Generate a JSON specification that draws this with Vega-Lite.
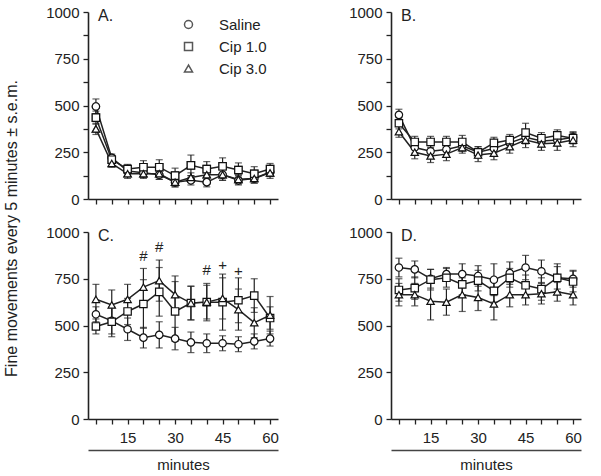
{
  "$schema": "https://vega.github.io/schema/vega-lite/v6.json",
  "padding": {"left": 3, "top": 5, "right": 5, "bottom": 3},
  "config": {
    "font": "Liberation Sans",
    "view": {"stroke": null},
    "axis": {"grid": false, "domainColor": "#222", "domainWidth": 1.6, "tickColor": "#222", "tickWidth": 1.3, "tickSize": 5, "labelFontSize": 15, "labelColor": "#222", "titleFontWeight": "normal", "titleColor": "#222", "titleFontSize": 16, "labelPadding": 4},
    "legend": {"labelFontSize": 15, "labelColor": "#222"},
    "title": {"fontSize": 16, "fontWeight": "normal", "color": "#222", "anchor": "start", "frame": "group"}
  },
  "datasets": {
    "ann": [
      {"panel": "C", "minute": 20, "level": 870, "sym": "#"},
      {"panel": "C", "minute": 25, "level": 920, "sym": "#"},
      {"panel": "C", "minute": 40, "level": 795, "sym": "#"},
      {"panel": "C", "minute": 45, "level": 825, "sym": "+"},
      {"panel": "C", "minute": 50, "level": 790, "sym": "+"}
    ],
    "d": [
      {"panel":"A","minute":5,"group":"Saline","mean":495,"sem":40},
      {"panel":"A","minute":10,"group":"Saline","mean":220,"sem":20},
      {"panel":"A","minute":15,"group":"Saline","mean":150,"sem":25},
      {"panel":"A","minute":20,"group":"Saline","mean":140,"sem":25},
      {"panel":"A","minute":25,"group":"Saline","mean":130,"sem":25},
      {"panel":"A","minute":30,"group":"Saline","mean":90,"sem":25},
      {"panel":"A","minute":35,"group":"Saline","mean":100,"sem":25},
      {"panel":"A","minute":40,"group":"Saline","mean":90,"sem":25},
      {"panel":"A","minute":45,"group":"Saline","mean":130,"sem":30},
      {"panel":"A","minute":50,"group":"Saline","mean":100,"sem":25},
      {"panel":"A","minute":55,"group":"Saline","mean":110,"sem":25},
      {"panel":"A","minute":60,"group":"Saline","mean":145,"sem":25},
      {"panel":"A","minute":5,"group":"Cip 1.0","mean":435,"sem":35},
      {"panel":"A","minute":10,"group":"Cip 1.0","mean":210,"sem":20},
      {"panel":"A","minute":15,"group":"Cip 1.0","mean":160,"sem":25},
      {"panel":"A","minute":20,"group":"Cip 1.0","mean":170,"sem":35},
      {"panel":"A","minute":25,"group":"Cip 1.0","mean":170,"sem":40},
      {"panel":"A","minute":30,"group":"Cip 1.0","mean":125,"sem":40},
      {"panel":"A","minute":35,"group":"Cip 1.0","mean":180,"sem":55},
      {"panel":"A","minute":40,"group":"Cip 1.0","mean":160,"sem":40},
      {"panel":"A","minute":45,"group":"Cip 1.0","mean":175,"sem":45},
      {"panel":"A","minute":50,"group":"Cip 1.0","mean":155,"sem":38},
      {"panel":"A","minute":55,"group":"Cip 1.0","mean":135,"sem":38},
      {"panel":"A","minute":60,"group":"Cip 1.0","mean":160,"sem":30},
      {"panel":"A","minute":5,"group":"Cip 3.0","mean":375,"sem":30},
      {"panel":"A","minute":10,"group":"Cip 3.0","mean":190,"sem":20},
      {"panel":"A","minute":15,"group":"Cip 3.0","mean":135,"sem":25},
      {"panel":"A","minute":20,"group":"Cip 3.0","mean":135,"sem":25},
      {"panel":"A","minute":25,"group":"Cip 3.0","mean":135,"sem":30},
      {"panel":"A","minute":30,"group":"Cip 3.0","mean":90,"sem":25},
      {"panel":"A","minute":35,"group":"Cip 3.0","mean":115,"sem":25},
      {"panel":"A","minute":40,"group":"Cip 3.0","mean":130,"sem":30},
      {"panel":"A","minute":45,"group":"Cip 3.0","mean":130,"sem":30},
      {"panel":"A","minute":50,"group":"Cip 3.0","mean":105,"sem":25},
      {"panel":"A","minute":55,"group":"Cip 3.0","mean":110,"sem":25},
      {"panel":"A","minute":60,"group":"Cip 3.0","mean":140,"sem":30},
      {"panel":"B","minute":5,"group":"Saline","mean":450,"sem":30},
      {"panel":"B","minute":10,"group":"Saline","mean":275,"sem":30},
      {"panel":"B","minute":15,"group":"Saline","mean":255,"sem":30},
      {"panel":"B","minute":20,"group":"Saline","mean":265,"sem":30},
      {"panel":"B","minute":25,"group":"Saline","mean":285,"sem":30},
      {"panel":"B","minute":30,"group":"Saline","mean":250,"sem":30},
      {"panel":"B","minute":35,"group":"Saline","mean":270,"sem":30},
      {"panel":"B","minute":40,"group":"Saline","mean":300,"sem":30},
      {"panel":"B","minute":45,"group":"Saline","mean":330,"sem":35},
      {"panel":"B","minute":50,"group":"Saline","mean":310,"sem":30},
      {"panel":"B","minute":55,"group":"Saline","mean":315,"sem":30},
      {"panel":"B","minute":60,"group":"Saline","mean":330,"sem":30},
      {"panel":"B","minute":5,"group":"Cip 1.0","mean":405,"sem":30},
      {"panel":"B","minute":10,"group":"Cip 1.0","mean":305,"sem":30},
      {"panel":"B","minute":15,"group":"Cip 1.0","mean":305,"sem":30},
      {"panel":"B","minute":20,"group":"Cip 1.0","mean":305,"sem":30},
      {"panel":"B","minute":25,"group":"Cip 1.0","mean":305,"sem":35},
      {"panel":"B","minute":30,"group":"Cip 1.0","mean":250,"sem":30},
      {"panel":"B","minute":35,"group":"Cip 1.0","mean":300,"sem":30},
      {"panel":"B","minute":40,"group":"Cip 1.0","mean":315,"sem":30},
      {"panel":"B","minute":45,"group":"Cip 1.0","mean":355,"sem":50},
      {"panel":"B","minute":50,"group":"Cip 1.0","mean":325,"sem":30},
      {"panel":"B","minute":55,"group":"Cip 1.0","mean":340,"sem":30},
      {"panel":"B","minute":60,"group":"Cip 1.0","mean":325,"sem":30},
      {"panel":"B","minute":5,"group":"Cip 3.0","mean":360,"sem":30},
      {"panel":"B","minute":10,"group":"Cip 3.0","mean":250,"sem":35},
      {"panel":"B","minute":15,"group":"Cip 3.0","mean":230,"sem":35},
      {"panel":"B","minute":20,"group":"Cip 3.0","mean":240,"sem":35},
      {"panel":"B","minute":25,"group":"Cip 3.0","mean":275,"sem":30},
      {"panel":"B","minute":30,"group":"Cip 3.0","mean":235,"sem":35},
      {"panel":"B","minute":35,"group":"Cip 3.0","mean":245,"sem":35},
      {"panel":"B","minute":40,"group":"Cip 3.0","mean":280,"sem":35},
      {"panel":"B","minute":45,"group":"Cip 3.0","mean":315,"sem":40},
      {"panel":"B","minute":50,"group":"Cip 3.0","mean":295,"sem":35},
      {"panel":"B","minute":55,"group":"Cip 3.0","mean":300,"sem":40},
      {"panel":"B","minute":60,"group":"Cip 3.0","mean":315,"sem":35},
      {"panel":"C","minute":5,"group":"Saline","mean":560,"sem":40},
      {"panel":"C","minute":10,"group":"Saline","mean":525,"sem":70},
      {"panel":"C","minute":15,"group":"Saline","mean":480,"sem":60},
      {"panel":"C","minute":20,"group":"Saline","mean":435,"sem":55},
      {"panel":"C","minute":25,"group":"Saline","mean":450,"sem":70},
      {"panel":"C","minute":30,"group":"Saline","mean":430,"sem":60},
      {"panel":"C","minute":35,"group":"Saline","mean":410,"sem":55},
      {"panel":"C","minute":40,"group":"Saline","mean":405,"sem":50},
      {"panel":"C","minute":45,"group":"Saline","mean":405,"sem":40},
      {"panel":"C","minute":50,"group":"Saline","mean":400,"sem":40},
      {"panel":"C","minute":55,"group":"Saline","mean":415,"sem":40},
      {"panel":"C","minute":60,"group":"Saline","mean":430,"sem":40},
      {"panel":"C","minute":5,"group":"Cip 1.0","mean":495,"sem":40},
      {"panel":"C","minute":10,"group":"Cip 1.0","mean":520,"sem":80},
      {"panel":"C","minute":15,"group":"Cip 1.0","mean":575,"sem":70},
      {"panel":"C","minute":20,"group":"Cip 1.0","mean":615,"sem":130},
      {"panel":"C","minute":25,"group":"Cip 1.0","mean":680,"sem":130},
      {"panel":"C","minute":30,"group":"Cip 1.0","mean":575,"sem":160},
      {"panel":"C","minute":35,"group":"Cip 1.0","mean":620,"sem":90},
      {"panel":"C","minute":40,"group":"Cip 1.0","mean":625,"sem":100},
      {"panel":"C","minute":45,"group":"Cip 1.0","mean":625,"sem":150},
      {"panel":"C","minute":50,"group":"Cip 1.0","mean":635,"sem":120},
      {"panel":"C","minute":55,"group":"Cip 1.0","mean":660,"sem":90},
      {"panel":"C","minute":60,"group":"Cip 1.0","mean":540,"sem":60},
      {"panel":"C","minute":5,"group":"Cip 3.0","mean":640,"sem":80},
      {"panel":"C","minute":10,"group":"Cip 3.0","mean":610,"sem":80},
      {"panel":"C","minute":15,"group":"Cip 3.0","mean":640,"sem":80},
      {"panel":"C","minute":20,"group":"Cip 3.0","mean":705,"sem":100},
      {"panel":"C","minute":25,"group":"Cip 3.0","mean":740,"sem":110},
      {"panel":"C","minute":30,"group":"Cip 3.0","mean":665,"sem":100},
      {"panel":"C","minute":35,"group":"Cip 3.0","mean":620,"sem":90},
      {"panel":"C","minute":40,"group":"Cip 3.0","mean":625,"sem":90},
      {"panel":"C","minute":45,"group":"Cip 3.0","mean":645,"sem":110},
      {"panel":"C","minute":50,"group":"Cip 3.0","mean":585,"sem":110},
      {"panel":"C","minute":55,"group":"Cip 3.0","mean":515,"sem":80},
      {"panel":"C","minute":60,"group":"Cip 3.0","mean":555,"sem":100},
      {"panel":"D","minute":5,"group":"Saline","mean":810,"sem":50},
      {"panel":"D","minute":10,"group":"Saline","mean":800,"sem":45},
      {"panel":"D","minute":15,"group":"Saline","mean":750,"sem":50},
      {"panel":"D","minute":20,"group":"Saline","mean":775,"sem":35},
      {"panel":"D","minute":25,"group":"Saline","mean":775,"sem":55},
      {"panel":"D","minute":30,"group":"Saline","mean":765,"sem":55},
      {"panel":"D","minute":35,"group":"Saline","mean":745,"sem":85},
      {"panel":"D","minute":40,"group":"Saline","mean":780,"sem":60},
      {"panel":"D","minute":45,"group":"Saline","mean":810,"sem":65},
      {"panel":"D","minute":50,"group":"Saline","mean":790,"sem":60},
      {"panel":"D","minute":55,"group":"Saline","mean":755,"sem":75},
      {"panel":"D","minute":60,"group":"Saline","mean":750,"sem":45},
      {"panel":"D","minute":5,"group":"Cip 1.0","mean":690,"sem":60},
      {"panel":"D","minute":10,"group":"Cip 1.0","mean":700,"sem":60},
      {"panel":"D","minute":15,"group":"Cip 1.0","mean":745,"sem":55},
      {"panel":"D","minute":20,"group":"Cip 1.0","mean":755,"sem":50},
      {"panel":"D","minute":25,"group":"Cip 1.0","mean":720,"sem":55},
      {"panel":"D","minute":30,"group":"Cip 1.0","mean":740,"sem":55},
      {"panel":"D","minute":35,"group":"Cip 1.0","mean":685,"sem":60},
      {"panel":"D","minute":40,"group":"Cip 1.0","mean":755,"sem":50},
      {"panel":"D","minute":45,"group":"Cip 1.0","mean":715,"sem":55},
      {"panel":"D","minute":50,"group":"Cip 1.0","mean":695,"sem":60},
      {"panel":"D","minute":55,"group":"Cip 1.0","mean":755,"sem":60},
      {"panel":"D","minute":60,"group":"Cip 1.0","mean":735,"sem":55},
      {"panel":"D","minute":5,"group":"Cip 3.0","mean":665,"sem":60},
      {"panel":"D","minute":10,"group":"Cip 3.0","mean":665,"sem":60},
      {"panel":"D","minute":15,"group":"Cip 3.0","mean":630,"sem":100},
      {"panel":"D","minute":20,"group":"Cip 3.0","mean":625,"sem":70},
      {"panel":"D","minute":25,"group":"Cip 3.0","mean":665,"sem":90},
      {"panel":"D","minute":30,"group":"Cip 3.0","mean":650,"sem":70},
      {"panel":"D","minute":35,"group":"Cip 3.0","mean":615,"sem":85},
      {"panel":"D","minute":40,"group":"Cip 3.0","mean":665,"sem":65},
      {"panel":"D","minute":45,"group":"Cip 3.0","mean":665,"sem":55},
      {"panel":"D","minute":50,"group":"Cip 3.0","mean":670,"sem":55},
      {"panel":"D","minute":55,"group":"Cip 3.0","mean":680,"sem":50},
      {"panel":"D","minute":60,"group":"Cip 3.0","mean":665,"sem":55}
    ]
  },
  "columns": 2,
  "bounds": "flush",
  "spacing": {"row": 33, "column": 113},
  "resolve": {"legend": {"shape": "independent"}},
  "concat": [
    {
      "width": 190, "height": 187,
      "title": {"text": "A.", "offset": -19, "dx": 10},
      "data": {"name": "d"},
      "transform": [{"filter": "datum.panel === 'A'"}],
      "encoding": {
        "x": {"field": "minute", "type": "quantitative", "scale": {"domain": [2.5, 62.5], "nice": false, "zero": false}, "axis": {"orient": "bottom", "values": [5,10,15,20,25,30,35,40,45,50,55,60], "labels": false, "title": null}},
        "y": {"field": "mean", "type": "quantitative", "scale": {"domain": [0, 1000], "nice": false}, "axis": {"values": [0,125,250,375,500,625,750,875,1000], "format": "d", "labelExpr": "datum.value % 250 === 0 ? datum.label : ''", "title": "Fine movements every 5 minutes ± s.e.m.", "titleAngle": 270, "titleX": -77, "titleY": 216, "titleAlign": "center", "titleBaseline": "middle"}}
      },
      "layer": [
        {"mark": {"type": "errorbar", "ticks": true, "size": 7, "thickness": 1.2, "color": "#222"}, "encoding": {"yError": {"field": "sem"}, "detail": {"field": "group"}}},
        {"mark": {"type": "line", "color": "#222", "strokeWidth": 1.5}, "encoding": {"detail": {"field": "group"}}},
        {"mark": {"type": "point", "stroke": "#111", "strokeWidth": 1.2, "size": 55},
         "encoding": {"shape": {"field": "group", "type": "nominal", "scale": {"domain": ["Saline", "Cip 1.0", "Cip 3.0"], "range": ["circle", "square", "triangle-up"]},
           "legend": {"title": null, "orient": "none", "legendX": 93, "legendY": 5, "labelOffset": 23, "rowPadding": 6, "symbolSize": 64, "padding": 0,
             "encode": {"symbols": {"strokeWidth": {"value": 1.2}, "shape": {"signal": "datum.label == 'Saline' ? 'M-2.75,0H-1M1,0H2.75M1,0A1,1,0,1,1,-1,0A1,1,0,1,1,1,0Z' : datum.label == 'Cip 1.0' ? 'M-2.75,0H-1M1,0H2.75M-1,-1H1V1H-1Z' : 'M-2.75,0.35H-0.8M0.8,0.35H2.75M0,-1.1L1.15,0.9H-1.15Z'"}}}}}}},
        {"mark": {"type": "point", "filled": true, "fill": "white", "stroke": "#111", "strokeWidth": 1.2, "size": 55, "opacity": 1},
         "encoding": {"shape": {"field": "group", "type": "nominal", "legend": null}}}
      ]
    },
    {
      "width": 190, "height": 187,
      "title": {"text": "B.", "offset": -19, "dx": 10},
      "data": {"name": "d"},
      "transform": [{"filter": "datum.panel === 'B'"}],
      "encoding": {
        "x": {"field": "minute", "type": "quantitative", "scale": {"domain": [2.5, 62.5], "nice": false, "zero": false}, "axis": {"orient": "bottom", "values": [5,10,15,20,25,30,35,40,45,50,55,60], "labels": false, "title": null}},
        "y": {"field": "mean", "type": "quantitative", "scale": {"domain": [0, 1000], "nice": false}, "axis": {"values": [0,125,250,375,500,625,750,875,1000], "format": "d", "labelExpr": "datum.value % 250 === 0 ? datum.label : ''", "title": null}}
      },
      "layer": [
        {"mark": {"type": "errorbar", "ticks": true, "size": 7, "thickness": 1.2, "color": "#222"}, "encoding": {"yError": {"field": "sem"}, "detail": {"field": "group"}}},
        {"mark": {"type": "line", "color": "#222", "strokeWidth": 1.5}, "encoding": {"detail": {"field": "group"}}},
        {"mark": {"type": "point", "filled": true, "fill": "white", "stroke": "#111", "strokeWidth": 1.2, "size": 55, "opacity": 1},
         "encoding": {"shape": {"field": "group", "type": "nominal", "scale": {"domain": ["Saline", "Cip 1.0", "Cip 3.0"], "range": ["circle", "square", "triangle-up"]}, "legend": null}}}
      ]
    },
    {
      "width": 190, "height": 187,
      "title": {"text": "C.", "offset": -19, "dx": 10},
      "data": {"name": "d"},
      "transform": [{"filter": "datum.panel === 'C'"}],
      "layer": [
        {
          "encoding": {
            "x": {"field": "minute", "type": "quantitative", "scale": {"domain": [2.5, 62.5], "nice": false, "zero": false}, "axis": {"orient": "bottom", "values": [5,10,15,20,25,30,35,40,45,50,55,60], "labelExpr": "datum.value % 15 === 0 ? datum.label : ''", "labelPadding": 6, "title": null}},
            "y": {"field": "mean", "type": "quantitative", "scale": {"domain": [0, 1000], "nice": false}, "axis": {"values": [0,125,250,375,500,625,750,875,1000], "format": "d", "labelExpr": "datum.value % 250 === 0 ? datum.label : ''", "title": null}}
          },
          "layer": [
            {"mark": {"type": "errorbar", "ticks": true, "size": 7, "thickness": 1.2, "color": "#222"}, "encoding": {"yError": {"field": "sem"}, "detail": {"field": "group"}}},
            {"mark": {"type": "line", "color": "#222", "strokeWidth": 1.5}, "encoding": {"detail": {"field": "group"}}},
            {"mark": {"type": "point", "filled": true, "fill": "white", "stroke": "#111", "strokeWidth": 1.2, "size": 55, "opacity": 1},
             "encoding": {"shape": {"field": "group", "type": "nominal", "scale": {"domain": ["Saline", "Cip 1.0", "Cip 3.0"], "range": ["circle", "square", "triangle-up"]}, "legend": null}}},
            {"data": {"name": "ann"}, "mark": {"type": "text", "fontSize": 15, "color": "#222", "baseline": "middle", "align": "center"},
             "encoding": {"y": {"field": "level", "type": "quantitative"}, "text": {"field": "sym"}}}
          ]
        },
        {
          "mark": {"type": "point", "opacity": 0},
          "encoding": {
            "x": {"field": "minute", "type": "quantitative", "scale": {"domain": [2.5, 62.5], "nice": false, "zero": false}, "axis": {"orient": "bottom", "offset": 31, "ticks": false, "labels": false, "domainWidth": 1.3, "domainColor": "#444", "title": "minutes", "titlePadding": 7, "titleFontSize": 15}},
            "y": {"field": "mean", "type": "quantitative"}
          }
        }
      ],
      "resolve": {"scale": {"x": "independent"}}
    },
    {
      "width": 190, "height": 187,
      "title": {"text": "D.", "offset": -19, "dx": 10},
      "data": {"name": "d"},
      "transform": [{"filter": "datum.panel === 'D'"}],
      "layer": [
        {
          "encoding": {
            "x": {"field": "minute", "type": "quantitative", "scale": {"domain": [2.5, 62.5], "nice": false, "zero": false}, "axis": {"orient": "bottom", "values": [5,10,15,20,25,30,35,40,45,50,55,60], "labelExpr": "datum.value % 15 === 0 ? datum.label : ''", "labelPadding": 6, "title": null}},
            "y": {"field": "mean", "type": "quantitative", "scale": {"domain": [0, 1000], "nice": false}, "axis": {"values": [0,125,250,375,500,625,750,875,1000], "format": "d", "labelExpr": "datum.value % 250 === 0 ? datum.label : ''", "title": null}}
          },
          "layer": [
            {"mark": {"type": "errorbar", "ticks": true, "size": 7, "thickness": 1.2, "color": "#222"}, "encoding": {"yError": {"field": "sem"}, "detail": {"field": "group"}}},
            {"mark": {"type": "line", "color": "#222", "strokeWidth": 1.5}, "encoding": {"detail": {"field": "group"}}},
            {"mark": {"type": "point", "filled": true, "fill": "white", "stroke": "#111", "strokeWidth": 1.2, "size": 55, "opacity": 1},
             "encoding": {"shape": {"field": "group", "type": "nominal", "scale": {"domain": ["Saline", "Cip 1.0", "Cip 3.0"], "range": ["circle", "square", "triangle-up"]}, "legend": null}}}
          ]
        },
        {
          "mark": {"type": "point", "opacity": 0},
          "encoding": {
            "x": {"field": "minute", "type": "quantitative", "scale": {"domain": [2.5, 62.5], "nice": false, "zero": false}, "axis": {"orient": "bottom", "offset": 31, "ticks": false, "labels": false, "domainWidth": 1.3, "domainColor": "#444", "title": "minutes", "titlePadding": 7, "titleFontSize": 15}},
            "y": {"field": "mean", "type": "quantitative"}
          }
        }
      ],
      "resolve": {"scale": {"x": "independent"}}
    }
  ]
}
